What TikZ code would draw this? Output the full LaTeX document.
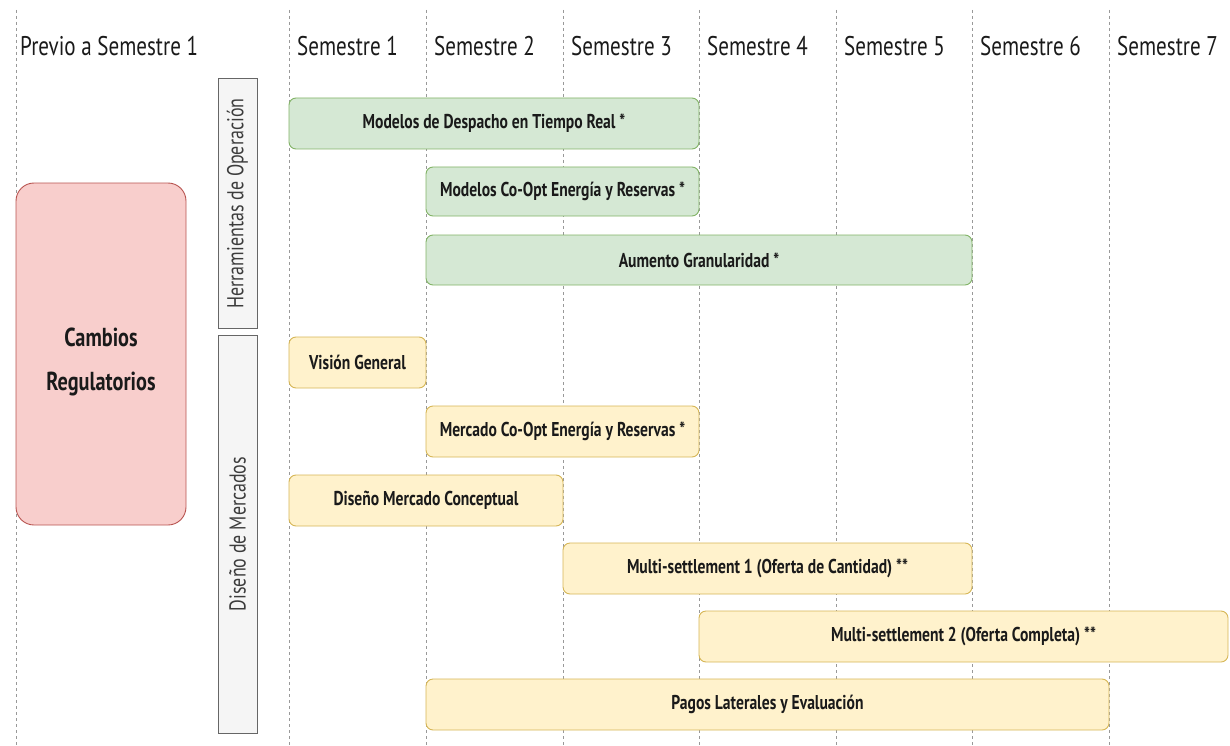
\documentclass[tikz,border=0pt]{standalone}
\usepackage{fontspec}
\setmainfont{PT Sans}[FakeStretch=0.78]
\definecolor{gfill}{HTML}{D5E8D4}
\definecolor{gline}{HTML}{82B366}
\definecolor{yfill}{HTML}{FFF2CC}
\definecolor{yline}{HTML}{D6B656}
\definecolor{pfill}{HTML}{F8CECC}
\definecolor{pline}{HTML}{B85450}
\definecolor{sfill}{HTML}{F5F5F5}
\definecolor{sline}{HTML}{666666}
\definecolor{txt}{HTML}{1A1A1A}
\tikzset{
  grid/.style={draw=black!40, line width=0.8pt, dash pattern=on 3pt off 3pt},
  hdr/.style={anchor=west, font=\fontsize{27}{30}\selectfont, text=txt, inner sep=0pt},
  bar/.style={rounded corners=7pt, line width=0.9pt, font=\bfseries\fontsize{20}{24}\selectfont, text=txt, inner sep=0pt},
  gbar/.style={bar, fill=gfill, draw=gline},
  ybar/.style={bar, fill=yfill, draw=yline},
  lane/.style={fill=sfill, draw=sline, line width=1pt, rotate=90, font=\fontsize{23}{26}\selectfont, text=txt!85, inner sep=0pt},
  reg/.style={rounded corners=18pt, fill=pfill, draw=pline, line width=0.9pt, inner sep=0pt},
  regtxt/.style={font=\bfseries\fontsize{26}{44}\selectfont, text=txt, align=center, inner sep=0pt}
}
\begin{document}
\begin{tikzpicture}[x=1pt,y=-1pt]
\useasboundingbox (0,0) rectangle (1230,746);
% grid lines
\foreach \gx/\gn in {16/g0,289/g1,426/g2,563/g3,699/g4,836/g5,972/g6,1109/g7}{
  \coordinate (\gn t) at (\gx,10);
  \coordinate (\gn b) at (\gx,746);
  \draw[grid] (\gn t) -- (\gn b);
}
% headers
\node[hdr] (h0) at (20,46) {Previo a Semestre 1};
\node[hdr] (h1) at (297,46) {Semestre 1};
\node[hdr] (h2) at (434,46) {Semestre 2};
\node[hdr] (h3) at (571,46) {Semestre 3};
\node[hdr] (h4) at (707,46) {Semestre 4};
\node[hdr] (h5) at (844,46) {Semestre 5};
\node[hdr] (h6) at (980,46) {Semestre 6};
\node[hdr] (h7) at (1117,46) {Semestre 7};
% regulatory
\node[reg, minimum width=170pt, minimum height=342pt] (cr) at (101,354) {};
\node[regtxt] (crt) at (101,362) {Cambios\\Regulatorios};
% lanes
\node[lane, minimum width=249pt, minimum height=39pt] (lh) at (237.5,203.5) {Herramientas de Operación};
\node[lane, minimum width=398pt, minimum height=39pt] (ld) at (237.5,534) {Diseño de Mercados};
% green bars
\node[gbar, minimum width=410pt, minimum height=51pt] (b1) at (494,123.5) {Modelos de Despacho en Tiempo Real *};
\node[gbar, minimum width=273pt, minimum height=49pt] (b2) at (562.5,191.5) {Modelos Co-Opt Energía y Reservas *};
\node[gbar, minimum width=546pt, minimum height=50pt] (b3) at (699,260) {Aumento Granularidad *};
% yellow bars
\node[ybar, minimum width=137pt, minimum height=51pt] (b4) at (357.5,362.5) {Visión General};
\node[ybar, minimum width=273pt, minimum height=51pt] (b5) at (562.5,431.5) {Mercado Co-Opt Energía y Reservas *};
\node[ybar, minimum width=274pt, minimum height=51pt] (b6) at (426,500.5) {Diseño Mercado Conceptual};
\node[ybar, minimum width=409pt, minimum height=51pt] (b7) at (767.5,568.5) {Multi-settlement 1 (Oferta de Cantidad) **};
\node[ybar, minimum width=529pt, minimum height=51pt] (b8) at (963.5,636.5) {Multi-settlement 2 (Oferta Completa) **};
\node[ybar, minimum width=683pt, minimum height=51pt] (b9) at (767.5,704.5) {Pagos Laterales y Evaluación};
\end{tikzpicture}
\end{document}
